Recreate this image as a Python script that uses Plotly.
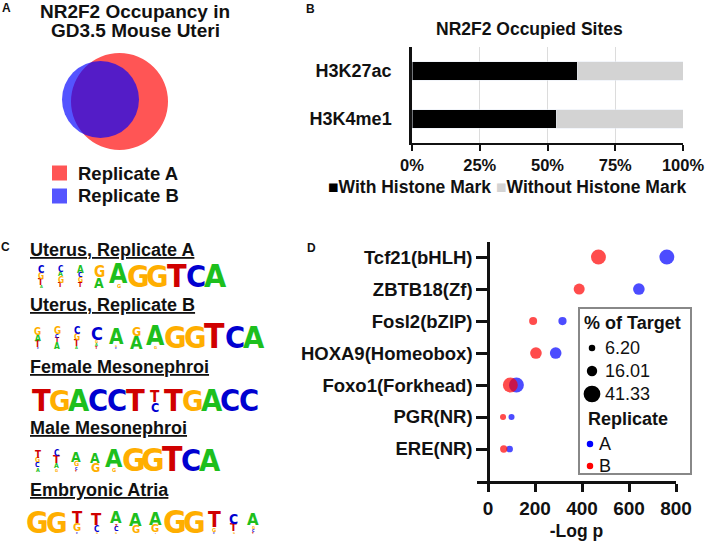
import plotly.graph_objects as go

W, H = 706, 541


def fx(x):
    return x / W


def fy(y):
    return 1 - y / H


FONT = "Liberation Sans, Arial, sans-serif"
LOGO_FONT = "Liberation Sans Narrow, DejaVu Sans Condensed, Liberation Sans, Arial, sans-serif"

# ---------------- data ----------------
# Panel A (Venn)
venn_sets = ["Replicate A", "Replicate B"]
venn_fill = ["#FF5555", "rgba(0,0,255,0.67)"]
venn_key = ["#FF5555", "#5555FF"]
venn_radius = [48.5, 38.5]

# Panel B
histone_marks = ["H3K4me1", "H3K27ac"]
with_mark_pct = [53.3, 61.0]
without_mark_pct = [46.7, 39.0]
pct_ticks = [0, 25, 50, 75, 100]
pct_labels = ["0%", "25%", "50%", "75%", "100%"]

# Panel C (sequence logos: columns, letters bottom->top with heights)
logo_titles = ["Uterus, Replicate A", "Uterus, Replicate B", "Female Mesonephroi",
               "Male Mesonephroi", "Embryonic Atria"]
logo_uterus_A = ["A3 T6 G6 C7", "T5 G6 A5 C6", "T5 G5 C5 A7", "A10 G11", "G4 A19",
                 "G22", "G22", "T23", "C22", "A23"]
logo_uterus_B = ["C2 T6 A6 G7", "A6 T5 C4 G7", "A3 T6 G6 C7", "T3 A3 G3 C13", "C2 G2 A15",
                 "A13 G9", "G3 A19", "G22", "G22", "T24", "C22", "A22"]
logo_female = ["T22", "G21", "A22", "C22", "C22", "T22", "C9 T11", "T22", "G21", "A22",
               "C22", "C22"]
logo_male = ["A4 C5 G5 T7", "G3 A5 T8 C6", "T2 C3 G5 A10", "G9 A10", "G4 A18",
             "G23", "G23", "T24", "C22", "A22"]
logo_atria = ["G22", "G21", "C2 G8 T12", "G2 C6 T12", "G2 C5 T3 A12", "G8 A13", "T1 G8 A13",
              "G23", "G22", "C2 G4 T15", "G2 T8 C10", "T2 C3 G3 A12"]
logos = [logo_uterus_A, logo_uterus_B, logo_female, logo_male, logo_atria]
letter_colors = {"A": "#1DBF1D", "C": "#0000D0", "G": "#FFAE00", "T": "#D00000"}

# Panel D
motifs = ["Tcf21(bHLH)", "ZBTB18(Zf)", "Fosl2(bZIP)", "HOXA9(Homeobox)",
          "Foxo1(Forkhead)", "PGR(NR)", "ERE(NR)"]
logp_A = [761, 642, 317, 288, 121, 100, 92]
logp_B = [470, 388, 192, 204, 95, 64, 67]
target_A = [33, 20, 10, 20, 33, 5.5, 6.6]
target_B = [33, 18, 9.5, 20, 33, 5.5, 7.9]
size_key = [6.20, 16.01, 41.33]
size_key_labels = ["6.20", "16.01", "41.33"]
replicates = ["A", "B"]
rep_colors = ["#0000FF", "#FF0000"]
logp_ticks = [0, 200, 400, 600, 800]


def msize(v):
    return 2.6 * v ** 0.5


# ---------------- figure ----------------
fig = go.Figure()

# Panel B bars
fig.add_trace(go.Bar(y=histone_marks, x=with_mark_pct, orientation="h", marker_color="#000000",
                     width=0.38, name="With Histone Mark", xaxis="x", yaxis="y"))
fig.add_trace(go.Bar(y=histone_marks, x=without_mark_pct, orientation="h", marker_color="#D3D3D3",
                     width=0.38, name="Without Histone Mark", xaxis="x", yaxis="y"))

# Panel D bubbles
fig.add_trace(go.Scatter(x=logp_A, y=motifs, mode="markers", name="A", xaxis="x2", yaxis="y2",
                         marker=dict(color=rep_colors[0], size=[msize(v) for v in target_A],
                                     line=dict(width=0))))
fig.add_trace(go.Scatter(x=logp_B, y=motifs, mode="markers", name="B", xaxis="x2", yaxis="y2",
                         marker=dict(color=rep_colors[1], size=[msize(v) for v in target_B],
                                     line=dict(width=0))))

annotations = []
shapes = []


def ann(x, y, text, size, color="#111111", xanchor="center", family=FONT, **kw):
    annotations.append(dict(x=fx(x), y=fy(y), xref="paper", yref="paper", text=text,
                            showarrow=False, xanchor=xanchor, yanchor="middle",
                            font=dict(family=family, size=size, color=color, **kw),
                            borderpad=0))


# panel letters
ann(6, 8, "<b>A</b>", 12)
ann(310, 9, "<b>B</b>", 12)
ann(5, 247, "<b>C</b>", 12)
ann(311, 248, "<b>D</b>", 12)

# Panel A
ann(135, 12, "<b>NR2F2 Occupancy in</b>", 19)
ann(135, 30, "<b>GD3.5 Mouse Uteri</b>", 19)
venn_centres = [(119.5, 101.5), (100.5, 99.5)]
for (cx, cy), r, col in zip(venn_centres, venn_radius, venn_fill):
    shapes.append(dict(type="circle", xref="paper", yref="paper",
                       x0=fx(cx - r), x1=fx(cx + r), y0=fy(cy + r), y1=fy(cy - r),
                       fillcolor=col, line=dict(width=0)))
for i, (name, col) in enumerate(zip(venn_sets, venn_key)):
    yc = 173 + 23 * i
    shapes.append(dict(type="rect", xref="paper", yref="paper",
                       x0=fx(52), x1=fx(67), y0=fy(yc + 7.5), y1=fy(yc - 7.5),
                       fillcolor=col, line=dict(width=0)))
    ann(77, yc, f"<b>{name}</b>", 18.5, xanchor="left")

# Panel B title + legend
ann(529, 29, "<b>NR2F2 Occupied Sites</b>", 17.5)
ann(507, 187, '<b><span style="color:#000000">■</span>With Histone Mark '
              '<span style="color:#D3D3D3">■</span>Without Histone Mark</b>', 17.5)

# Panel C logos
logo_title_y = [250, 305, 367, 428, 490]
logo_specs = [(31.5, 19.4, 287.5), (27.7, 19.7, 348.5), (32.0, 18.9, 411.5),
              (28.0, 19.2, 471.5), (28.0, 19.6, 533.5)]
for title, ty in zip(logo_titles, logo_title_y):
    ann(29, ty, f"<b>{title}</b>", 18, xanchor="left", lineposition="under")
for logo, (x0, cw, base) in zip(logos, logo_specs):
    for i, col in enumerate(logo):
        xc = x0 + (i + 0.5) * cw
        cum = 0.0
        for item in col.split():
            letter, h = item[0], float(item[1:])
            yc = base - cum - h / 2
            cum += h
            annotations.append(dict(x=fx(xc), y=fy(yc), xref="paper", yref="paper",
                                    text=f"<b>{letter}</b>", showarrow=False,
                                    xanchor="center", yanchor="middle", borderpad=0,
                                    font=dict(family=LOGO_FONT, size=h / 0.72,
                                              color=letter_colors[letter])))

# Panel D legend
shapes.append(dict(type="rect", xref="paper", yref="paper", x0=fx(579), x1=fx(691),
                   y0=fy(474), y1=fy(308), fillcolor="white", line=dict(color="#888888", width=2)))
ann(583, 323, "<b>% of Target</b>", 18, xanchor="left")
for v, lab, yc in zip(size_key, size_key_labels, [348, 371, 394]):
    d = msize(v)
    shapes.append(dict(type="circle", xref="paper", yref="paper",
                       x0=fx(592 - d / 2), x1=fx(592 + d / 2), y0=fy(yc + d / 2), y1=fy(yc - d / 2),
                       fillcolor="#000000", line=dict(width=0)))
    ann(604, yc, lab, 18, xanchor="left")
ann(587, 419, "<b>Replicate</b>", 18, xanchor="left")
for rep, col, yc in zip(replicates, rep_colors, [444, 466]):
    d = msize(size_key[0])
    shapes.append(dict(type="circle", xref="paper", yref="paper",
                       x0=fx(590 - d / 2), x1=fx(590 + d / 2), y0=fy(yc + d / 2), y1=fy(yc - d / 2),
                       fillcolor=col, line=dict(width=0)))
    ann(598, yc, rep, 18, xanchor="left")

fig.update_layout(
    width=W, height=H, margin=dict(l=0, r=0, t=0, b=0, autoexpand=False),
    paper_bgcolor="white", plot_bgcolor="white", showlegend=False,
    barmode="stack", font=dict(family=FONT, color="#111111"),
    xaxis=dict(domain=[fx(412), fx(683)], anchor="y", range=[0, 100], automargin=False,
               tickvals=pct_ticks, ticktext=[f"<b>{t}</b>" for t in pct_labels],
               tickfont=dict(size=16.5, color="#111111"), ticks="outside", ticklen=6,
               tickwidth=2, tickcolor="#111111", showline=True, linewidth=2, linecolor="#111111",
               showgrid=True, gridcolor="#DCDCDC", gridwidth=1, zeroline=False, fixedrange=True),
    yaxis=dict(domain=[fy(143), fy(47)], anchor="x", range=[-0.5, 1.5], type="category",
               automargin=False, categoryarray=histone_marks, tickvals=histone_marks,
               ticktext=[f"<b>{t}</b>" for t in histone_marks],
               tickfont=dict(size=18, color="#111111"), ticks="outside", ticklen=14,
               tickcolor="rgba(0,0,0,0)", showline=True, linewidth=2.5, linecolor="#111111",
               showgrid=False, zeroline=False),
    xaxis2=dict(domain=[fx(477), fx(676)], anchor="y2", range=[-46.8, 800], automargin=False,
                tickvals=logp_ticks, ticktext=[f"<b>{t}</b>" for t in logp_ticks],
                tickfont=dict(size=19, color="#111111"), ticks="outside", ticklen=8,
                tickwidth=2.5, tickcolor="#111111", showline=True, linewidth=2.5,
                linecolor="#111111", showgrid=False, zeroline=False,
                title=dict(text="<b>-Log p</b>", font=dict(size=17.5, color="#111111"), standoff=9)),
    yaxis2=dict(domain=[fy(481), fy(242)], anchor="free", position=fx(488), type="category",
                automargin=False, categoryarray=motifs, range=[7.0, -0.47], tickvals=motifs,
                ticktext=[f"<b>{t}</b>" for t in motifs],
                tickfont=dict(size=18.5, color="#111111"), ticks="outside", ticklen=11,
                tickwidth=2.5, tickcolor="#111111", showline=True, linewidth=2.5,
                linecolor="#111111", showgrid=False, zeroline=False),
    annotations=annotations, shapes=shapes,
)

fig.write_html("out.html", config={"displayModeBar": False},
               post_script="document.body.style.margin='0px';document.body.style.overflow='hidden';")
